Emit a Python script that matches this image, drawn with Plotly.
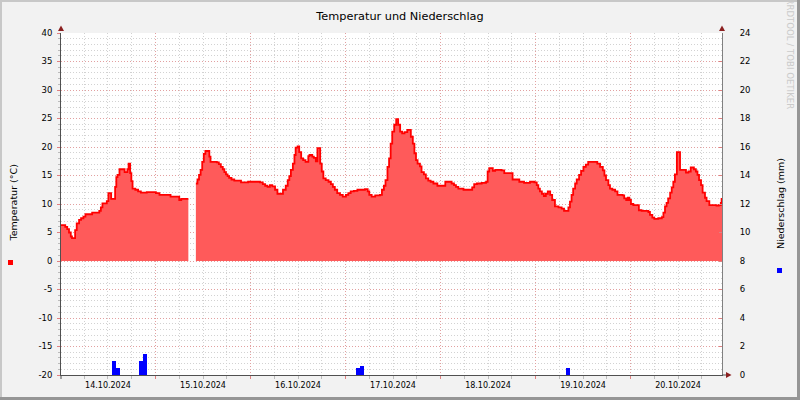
import pandas as pd
import plotly.graph_objects as go

# ---------------- data ----------------
START = pd.Timestamp("2024-10-14 00:00")

# temperature step series: hour offset from START -> value (°C); None = data gap
temp_hours = [
    0.0, 1.2, 1.7, 2.15, 2.6, 2.9, 3.7, 4.1, 4.7, 5.2, 5.8, 6.3, 8.0, 9.8, 10.2, 10.6, 11.7, 12.1, 12.8, 13.8, 14.1, 14.4, 14.9, 16.2, 16.9, 17.2, 17.6, 17.9, 18.2, 18.9, 19.6, 20.3, 21.8,
    24.1, 25.0, 27.8, 30.0, 30.5, 32.3, 32.4, 34.2, 34.6, 35.0, 35.4, 35.8, 36.2, 36.6, 37.6, 37.9, 39.5, 40.0, 40.5, 41.0, 41.4, 41.8, 42.2, 42.6, 43.2, 43.9, 45.6, 47.4,
    50.4, 51.1, 51.7, 52.3, 52.9, 53.5, 54.2, 54.8, 56.2, 56.9, 57.4, 57.8, 58.2, 58.7, 59.1, 59.4, 59.9, 60.3, 60.8, 61.3, 61.9, 62.6, 62.9, 63.6, 64.0, 64.5, 64.9, 65.6, 66.0, 66.4, 67.0, 67.7, 68.3, 68.8, 69.3, 69.9, 70.6, 71.3,
    72.1, 72.7, 73.3, 74.1, 75.0, 76.9, 77.6, 78.0, 78.6, 79.5, 80.7, 81.2, 81.7, 82.1, 82.6, 83.0, 83.4, 83.8, 84.3, 84.8, 85.3, 85.8, 86.3, 86.9, 87.6, 88.5, 89.0, 89.4, 89.8, 90.2, 90.8, 91.2, 91.8, 92.3, 92.9, 93.5, 94.2, 95.2,
    97.2, 98.8, 99.4, 99.9, 100.5, 101.8, 104.0, 104.5, 105.2, 106.4, 107.5, 107.9, 108.3, 109.2, 109.8, 111.4, 112.1, 114.2, 115.9, 117.1, 118.6, 119.7,
    120.3, 120.7, 121.1, 121.6, 122.1, 122.6, 123.1, 123.7, 124.2, 124.9, 125.8, 126.6, 127.2, 128.3, 128.7, 129.1, 129.5, 130.0, 130.4, 131.0, 131.5, 132.1, 132.7, 133.3, 135.6, 136.3, 137.0, 137.4, 137.8, 138.4, 138.8, 139.4, 140.1, 140.7, 142.0, 142.4, 142.9, 143.3, 143.7,
    144.1, 144.7, 146.1, 146.8, 148.5, 148.9, 149.5, 150.0, 151.0, 151.9, 152.3, 152.7, 153.1, 153.5, 154.0, 154.4, 154.8, 155.2, 155.7, 156.5, 158.0, 158.6, 159.2, 160.0, 160.5, 160.9, 161.3, 161.8, 162.2, 162.8, 163.2, 163.9, 165.7, 166.3, 166.8, 167.0, 167.2,
]
temps = [
    6.3, 6.0, 5.6, 5.0, 4.3, 4.0, 5.4, 6.6, 7.2, 7.5, 7.8, 8.2, 8.5, 8.8, 9.4, 10.1, 10.5, 11.9, 10.9, 13.0, 14.7, 15.1, 16.1, 15.6, 16.1, 17.1, 15.4, 14.0, 12.7, 12.5, 12.2, 12.0, 12.1,
    11.9, 11.6, 11.3, 10.7, 10.9, 10.9, None, 13.6, 14.3, 15.1, 16.0, 17.4, 18.8, 19.3, 18.3, 17.4, 17.3, 17.0, 16.5, 16.1, 15.6, 15.2, 14.9, 14.6, 14.3, 14.1, 13.8, 13.9,
    13.8, 13.5, 13.2, 13.0, 13.3, 13.1, 12.5, 11.8, 12.5, 13.2, 14.2, 14.9, 16.0, 17.1, 18.6, 19.9, 20.1, 19.1, 18.0, 17.7, 17.4, 18.4, 18.6, 18.3, 18.1, 17.5, 19.8, 17.1, 15.7, 14.5, 14.2, 13.9, 13.5, 13.0, 12.5, 11.9, 11.6, 11.3,
    11.6, 11.9, 12.2, 12.3, 12.5, 12.6, 12.2, 11.6, 11.3, 11.5, 11.6, 12.5, 13.2, 14.2, 16.5, 18.0, 20.6, 22.7, 23.9, 24.9, 23.9, 22.7, 22.4, 22.6, 23.0, 21.8, 20.6, 18.9, 17.7, 17.1, 16.6, 15.6, 15.2, 14.5, 14.1, 13.9, 13.6, 13.2,
    13.9, 13.6, 13.3, 13.0, 12.7, 12.5, 12.9, 13.5, 13.6, 13.7, 13.9, 15.7, 16.3, 15.8, 16.0, 15.9, 15.4, 14.3, 13.9, 13.7, 13.9, 13.8,
    13.3, 12.7, 12.2, 11.8, 11.4, 11.8, 12.2, 11.6, 10.7, 9.6, 9.4, 9.2, 8.8, 9.4, 10.4, 11.6, 12.7, 13.6, 14.3, 15.1, 15.8, 16.5, 16.9, 17.4, 17.1, 16.5, 15.9, 15.0, 14.2, 13.3, 12.7, 12.5, 12.2, 11.6, 11.5, 11.0, 10.7, 11.1, 10.7,
    10.0, 9.8, 8.9, 8.8, 8.6, 8.1, 7.6, 7.4, 7.5, 7.7, 8.5, 9.6, 10.2, 11.0, 12.0, 12.9, 13.9, 15.2, 19.1, 16.0, 15.5, 15.7, 16.4, 16.1, 15.7, 15.1, 14.2, 13.3, 12.0, 11.1, 10.5, 9.8, 9.7, 9.8, 10.2, 10.9, 10.9,
]

# hourly precipitation bars: start hour offset -> mm
rain_hours = [13.0, 14.0, 19.8, 20.8, 74.6, 75.6, 127.7]
rain_mm = [1.0, 0.5, 1.0, 1.5, 0.5, 0.6, 0.5]

temp_ticks = [-20, -15, -10, -5, 0, 5, 10, 15, 20, 25, 30, 35, 40]
temp_tick_labels = [str(v) for v in temp_ticks]
rain_ticks = [0, 2, 4, 6, 8, 10, 12, 14, 16, 18, 20, 22, 24]
rain_tick_labels = [str(v) for v in rain_ticks]

TITLE = "Temperatur und Niederschlag"
YTITLE = "Temperatur (°C)"
Y2TITLE = "Niederschlag (mm)"
WATERMARK = "RRDTOOL / TOBI OETIKER"

# ---------------- figure ----------------
def to_time(hs):
    return [START + pd.Timedelta(hours=h) for h in hs]


# split the temperature series into contiguous segments at data gaps
segments = []
cur_h, cur_t = [], []
for h, t in zip(temp_hours, temps):
    if t is None:
        if cur_h:
            segments.append((cur_h, cur_t))
        cur_h, cur_t = [], []
    else:
        cur_h.append(h)
        cur_t.append(t)
if cur_h:
    segments.append((cur_h, cur_t))

FONT = "DejaVu Sans"
MAJ = "#E2A0A0"
MIN = "#D2D2D2"
DOT = "1px,2px"

L, R, T, B = 61, 722, 33, 375
W, H = R - L, B - T


def px(x):
    return (x - L) / W


def py(y):
    return (B - y) / H


fig = go.Figure()
for seg_h, seg_t in segments:
    fig.add_trace(go.Scatter(
        x=to_time(seg_h), y=seg_t, mode="lines",
        line=dict(shape="hv", color="#FF0000", width=1.8),
        fill="tozeroy", fillcolor="#FF5A5A", hoverinfo="skip",
    ))
fig.add_trace(go.Bar(
    x=to_time(rain_hours), y=rain_mm, yaxis="y2",
    width=3.6e6, offset=0, marker=dict(color="#0000FF", line=dict(width=0)),
    hoverinfo="skip",
))

shapes = []
# 3D frame
shapes.append(dict(type="rect", xref="paper", yref="paper", x0=px(0), x1=px(800), y0=py(0), y1=py(2),
                   fillcolor="#C8C8C8", line=dict(width=0)))
shapes.append(dict(type="rect", xref="paper", yref="paper", x0=px(0), x1=px(2), y0=py(0), y1=py(400),
                   fillcolor="#C8C8C8", line=dict(width=0)))
shapes.append(dict(type="rect", xref="paper", yref="paper", x0=px(797), x1=px(800), y0=py(0), y1=py(400),
                   fillcolor="#969696", line=dict(width=0)))
shapes.append(dict(type="rect", xref="paper", yref="paper", x0=px(0), x1=px(800), y0=py(397), y1=py(400),
                   fillcolor="#969696", line=dict(width=0)))
# axis arrows
ARROW = "#8B2020"


def tri(pts):
    p = " L ".join(f"{px(a)},{py(b)}" for a, b in pts)
    return "M " + p + " Z"


shapes.append(dict(type="path", xref="paper", yref="paper", path=tri([(58, 31), (64, 31), (61, 25.5)]),
                   fillcolor=ARROW, line=dict(width=0)))
shapes.append(dict(type="path", xref="paper", yref="paper", path=tri([(719, 31), (725, 31), (722, 25.5)]),
                   fillcolor=ARROW, line=dict(width=0)))
shapes.append(dict(type="line", xref="paper", yref="paper", x0=px(722), x1=px(727), y0=py(375), y1=py(375),
                   line=dict(color="#505050", width=1)))
shapes.append(dict(type="line", xref="paper", yref="paper", x0=px(61), x1=px(61), y0=py(375), y1=py(379),
                   line=dict(color="#505050", width=1)))
shapes.append(dict(type="path", xref="paper", yref="paper", path=tri([(726, 372), (726, 378), (731.5, 375)]),
                   fillcolor=ARROW, line=dict(width=0)))
# legend squares
shapes.append(dict(type="rect", xref="paper", yref="paper", x0=px(8), x1=px(13), y0=py(260), y1=py(265),
                   fillcolor="#FF0000", line=dict(width=0)))
shapes.append(dict(type="rect", xref="paper", yref="paper", x0=px(777), x1=px(782), y0=py(268), y1=py(273),
                   fillcolor="#0000FF", line=dict(width=0)))

annotations = [
    dict(text=YTITLE, xref="paper", yref="paper", x=px(12.5), y=py(203), textangle=-90,
         showarrow=False, font=dict(family=FONT, size=9.5, color="#000000"), xanchor="center", yanchor="middle"),
    dict(text=Y2TITLE, xref="paper", yref="paper", x=px(780), y=py(204), textangle=-90,
         showarrow=False, font=dict(family=FONT, size=9.5, color="#000000"), xanchor="center", yanchor="middle"),
    dict(text=WATERMARK, xref="paper", yref="paper", x=px(789.5), y=py(54), textangle=90,
         showarrow=False, font=dict(family=FONT, size=8.6, color="#CACACA"), xanchor="center", yanchor="middle"),
]

fig.update_layout(
    width=800, height=400, autosize=False,
    margin=dict(l=L, r=800 - R, t=T, b=400 - B, pad=0, autoexpand=False),
    paper_bgcolor="#F2F2F2", plot_bgcolor="#FFFFFF",
    showlegend=False,
    font=dict(family=FONT, size=8, color="#000000"),
    title=dict(text=TITLE, x=0.5, xref="container", xanchor="center",
               y=1 - 16 / 400, yref="container", yanchor="middle", automargin=False,
               font=dict(family=FONT, size=11.3, color="#000000")),
    shapes=shapes, annotations=annotations,
    xaxis=dict(
        type="date", automargin=False,
        range=[START + pd.Timedelta(hours=0.13), START + pd.Timedelta(hours=167.1)],
        tick0=START, dtick=86400000, tickformat="%d.%m.%Y", ticklabelmode="period",
        showgrid=True, gridcolor=MAJ, griddash=DOT, gridwidth=1,
        ticks="outside", ticklen=3, tickcolor="#E08080",
        minor=dict(dtick=6 * 3600000, showgrid=True, gridcolor=MIN, griddash=DOT, gridwidth=1,
                   ticks="outside", ticklen=3, tickcolor="#BBBBBB"),
        showline=True, linecolor="#505050", linewidth=1, zeroline=False,
        tickfont=dict(family=FONT, size=8), ticklabelstandoff=-1,
    ),
    yaxis=dict(
        automargin=False,
        range=[-20, 40], tickmode="array", tickvals=temp_ticks, ticktext=temp_tick_labels,
        showgrid=True, gridcolor=MAJ, griddash=DOT, gridwidth=1,
        minor=dict(tickmode="linear", tick0=0, dtick=1, showgrid=True, gridcolor=MIN, griddash=DOT, gridwidth=1,
                   ticks="outside", ticklen=2, tickcolor="#BBBBBB"),
        ticks="outside", ticklen=3, tickcolor="#E08080",
        showline=True, linecolor="#505050", linewidth=1, zeroline=False,
        tickfont=dict(family=FONT, size=8.5), ticklabelstandoff=3,
    ),
    yaxis2=dict(
        automargin=False,
        range=[0, 24], overlaying="y", side="right", anchor="x",
        tickmode="array", tickvals=rain_ticks, ticktext=rain_tick_labels,
        showgrid=False, ticks="inside", ticklen=3, tickcolor="#E08080",
        showline=True, linecolor="#808080", linewidth=1, zeroline=False,
        tickfont=dict(family=FONT, size=8.5), ticklabelstandoff=15,
    ),
    bargap=0,
)

fig.write_html(
    "out.html",
    config={"displayModeBar": False, "responsive": False},
    post_script="document.body.style.margin='0';document.body.style.padding='0';",
)
